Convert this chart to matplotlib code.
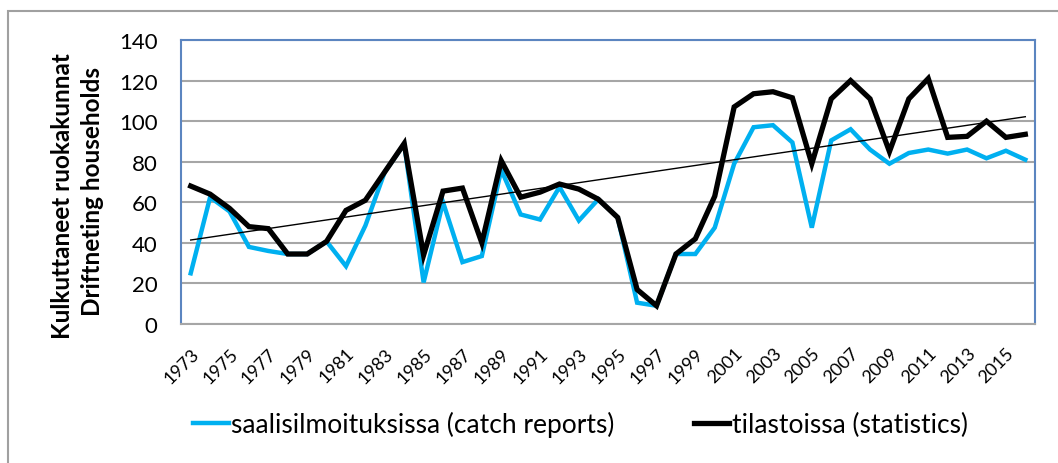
import numpy as np
import matplotlib.pyplot as plt
from matplotlib.patches import Rectangle

years = list(range(1973, 2017))
catch_reports = [25, 62.5, 55.5, 38, 36, 34.5, 34.5, 40.7, 28.5, 48.5,
                 75, 88.7, 20.5, 60, 30.5, 33.5, 76, 54, 51.5, 67.5,
                 51, 61.5, 52.5, 10.5, 9, 34.5, 34.5, 47.5, 79, 97,
                 98, 89.5, 47.5, 90.5, 96, 86, 79, 84.3, 86, 84,
                 86, 81.7, 85.4, 81]
statistics = [68, 64, 57, 48, 47, 34.5, 34.5, 40.7, 56, 61,
              75, 89, 34, 65.5, 67, 40, 80.5, 62.5, 65, 69,
              66.5, 61.5, 52.5, 17, 9, 34.5, 42, 63, 107, 113.5,
              114.5, 111.5, 79, 111, 120, 111, 85, 111, 121, 92,
              92.5, 100, 92, 93.5]
tick_years = [str(y) for y in years[::2]]

plt.rcParams['font.family'] = ['Lato', 'DejaVu Sans']

fig = plt.figure(figsize=(10.58, 4.64), dpi=100)
ax = fig.add_axes([181/1058, 1-325/464, 854/1058, 284/464])

# outer chart border (only top/left visible in the crop)
fig.patches.append(Rectangle((8/1058, -0.1), 1.2, (464-12)/464 + 0.1,
                             transform=fig.transFigure, fill=False,
                             edgecolor='#a0a0a0', linewidth=1.5))

x = np.arange(len(years))
ax.plot(x, catch_reports, color='#00b0f0', linewidth=3.2,
        solid_joinstyle='miter', label='saalisilmoituksissa (catch reports)', zorder=3)
ax.plot(x, statistics, color='black', linewidth=3.8,
        solid_joinstyle='miter', label='tilastoissa (statistics)', zorder=4)

# linear trend of the statistics series
k, b = np.polyfit(x, statistics, 1)
ax.plot(x, k*x + b, color='black', linewidth=1.0, zorder=5)

ax.set_xlim(-0.5, len(years) - 0.5)
ax.set_ylim(0, 140)
ax.set_yticks(range(0, 141, 20))
ax.yaxis.grid(True, color='#a6a6a6', linewidth=1.5)
ax.set_axisbelow(True)
ax.tick_params(axis='y', length=0, pad=17, labelsize=16)
ax.set_xticks(x[::2])
ax.set_xticklabels(tick_years, rotation=45, ha='right', rotation_mode='anchor',
                   fontsize=13)
ax.tick_params(axis='x', length=0, pad=15)

for s in ['left', 'top', 'right']:
    ax.spines[s].set_color('#5b85c0')
    ax.spines[s].set_linewidth(1.5)
ax.spines['bottom'].set_color('#a6a6a6')
ax.spines['bottom'].set_linewidth(1.5)

fig.text(63/1058, 1-196/464, 'Kulkuttaneet ruokakunnat', rotation=90,
         ha='center', va='center', fontsize=17.5, fontweight='bold')
fig.text(93/1058, 1-191/464, 'Driftneting households', rotation=90,
         ha='center', va='center', fontsize=17.5, fontweight='bold')

fig.legend(loc='center left', bbox_to_anchor=(193/1058, 1-425/464), ncol=2,
           frameon=False, fontsize=19, handlelength=1.35, handletextpad=0.1,
           columnspacing=3.0, borderaxespad=0, borderpad=0)

fig.savefig('out.png', dpi=100)
